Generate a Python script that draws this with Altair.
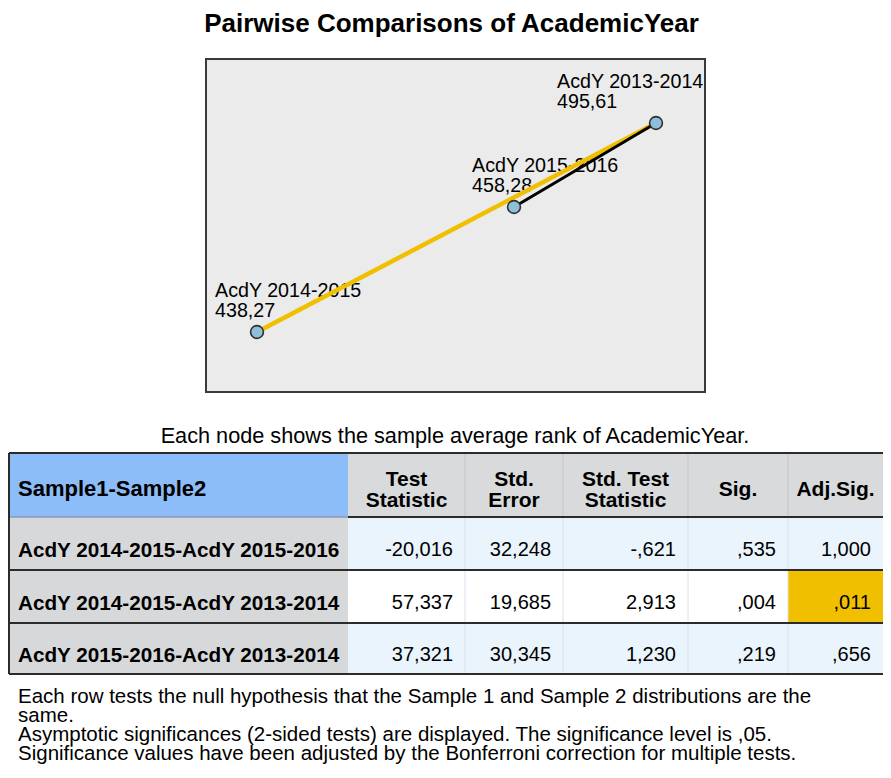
import altair as alt
import pandas as pd

# ---------------- data ----------------
title_text = "Pairwise Comparisons of AcademicYear"
caption_text = "Each node shows the sample average rank of AcademicYear."

node_names = ["AcdY 2014-2015", "AcdY 2015-2016", "AcdY 2013-2014"]
avg_ranks = [438.27, 458.28, 495.61]

edge_from = ["AcdY 2014-2015", "AcdY 2015-2016"]
edge_to = ["AcdY 2013-2014", "AcdY 2013-2014"]
edge_significant = [True, False]

header_labels = ["Sample1-Sample2", "Test\nStatistic", "Std.\nError",
                 "Std. Test\nStatistic", "Sig.", "Adj.Sig."]
pair_labels = ["AcdY 2014-2015-AcdY 2015-2016",
               "AcdY 2014-2015-AcdY 2013-2014",
               "AcdY 2015-2016-AcdY 2013-2014"]
test_statistic = [-20.016, 57.337, 37.321]
std_error = [32.248, 19.685, 30.345]
std_test_statistic = [-0.621, 2.913, 1.230]
sig = [0.535, 0.004, 0.219]
adj_sig = [1.000, 0.011, 0.656]

footnote_lines = [
    "Each row tests the null hypothesis that the Sample 1 and Sample 2 distributions are the",
    "same.",
    "Asymptotic significances (2-sided tests) are displayed. The significance level is ,05.",
    "Significance values have been adjusted by the Bonferroni correction for multiple tests.",
]

# ---------------- layout (page pixel frame) ----------------
W, H = 875, 757
node_x = [257, 514, 656]
node_y = [332, 207, 123]
label_x = [215, 472, 557]
box = dict(x=206, x2=705, y=59, y2=392)
col_edges = [9, 348, 465, 563, 688, 788, 883]
row_edges = [453, 517, 570, 623, 674]
foot_y = [703, 722, 741, 760]

FONT = "Liberation Sans"


def spss(v, d):
    s = f"{abs(v):.{d}f}".replace(".", ",")
    if s.startswith("0,"):
        s = s[1:]
    return ("-" if v < 0 else "") + s


XS = alt.Scale(domain=[8, 8 + W], range=[0, W], nice=False, zero=False)
YS = alt.Scale(domain=[8, 8 + H], range=[0, H], nice=False, zero=False)


def X(f):
    return alt.X(f"{f}:Q", scale=XS, axis=None)


def Y(f):
    return alt.Y(f"{f}:Q", scale=YS, axis=None)


def text_layer(df, size, weight="normal", align="left", font=FONT, color="#000000"):
    return alt.Chart(df).mark_text(
        font=font, fontSize=size, fontWeight=weight, align=align,
        baseline="alphabetic", color=color
    ).encode(x=X("x"), y=Y("y"), text="t:N")


layers = []

# title
layers.append(text_layer(pd.DataFrame({"x": [451.5], "y": [32], "t": [title_text]}),
                         26, "bold", "center"))

# plot box
layers.append(alt.Chart(pd.DataFrame([box])).mark_rect(
    fill="#ebebeb", stroke="#3a3a3a", strokeWidth=2
).encode(x=X("x"), x2="x2", y=Y("y"), y2="y2"))

# node labels
nodes = pd.DataFrame({"name": node_names, "rank": avg_ranks,
                      "nx": node_x, "ny": node_y, "lx": label_x})
lab1 = pd.DataFrame({"x": nodes.lx, "y": nodes.ny - 35, "t": nodes.name})
lab2 = pd.DataFrame({"x": nodes.lx, "y": nodes.ny - 15,
                     "t": [spss(r, 2) for r in nodes["rank"]]})
layers.append(text_layer(lab1, 19.7))
layers.append(text_layer(lab2, 19.7))

# edges
pos = {n: (x, y) for n, x, y in zip(node_names, node_x, node_y)}
edges = pd.DataFrame({
    "x": [pos[a][0] for a in edge_from], "y": [pos[a][1] for a in edge_from],
    "x2": [pos[b][0] for b in edge_to], "y2": [pos[b][1] for b in edge_to],
    "c": ["#f0c000" if s else "#000000" for s in edge_significant],
    "w": [4.5 if s else 3 for s in edge_significant],
})
layers.append(alt.Chart(edges).mark_rule(strokeCap="round").encode(
    x=X("x"), y=Y("y"), x2="x2", y2="y2",
    color=alt.Color("c:N", scale=None),
    strokeWidth=alt.StrokeWidth("w:Q", scale=None)))

# nodes
layers.append(alt.Chart(nodes).mark_circle(
    fill="#8ebfda", stroke="#2f2f2f", strokeWidth=1.6, size=165, opacity=1
).encode(x=X("nx"), y=Y("ny")))

# caption
layers.append(text_layer(pd.DataFrame({"x": [455], "y": [443], "t": [caption_text]}),
                         21.7, align="center"))

# ---------------- table ----------------
cells = []
for j in range(6):
    cells.append(dict(x=col_edges[j], x2=col_edges[j + 1], y=row_edges[0], y2=row_edges[1],
                      f="#8cbdf8" if j == 0 else "#d9dadc"))
for i in range(3):
    for j in range(6):
        if j == 0:
            f = "#d7d8d9"
        elif j == 5 and adj_sig[i] < 0.05:
            f = "#f0c000"
        else:
            f = "#ffffff" if i == 1 else "#eaf4fc"
        cells.append(dict(x=col_edges[j], x2=col_edges[j + 1], y=row_edges[i + 1],
                          y2=row_edges[i + 2], f=f))
cells = pd.DataFrame(cells)
layers.append(alt.Chart(cells).mark_rect().encode(
    x=X("x"), x2="x2", y=Y("y"), y2="y2", fill=alt.Fill("f:N", scale=None)))

lines = []
for xe in col_edges[2:6]:
    lines.append(dict(x=xe, x2=xe, y=row_edges[0], y2=row_edges[1], c="#c4c5c7", w=1))
    lines.append(dict(x=xe, x2=xe, y=row_edges[1], y2=row_edges[4], c="#d6e2ec", w=1))
lines.append(dict(x=col_edges[0], x2=col_edges[1], y=row_edges[1], y2=row_edges[1], c="#8a9bb0", w=1.5))
lines.append(dict(x=col_edges[1], x2=col_edges[6], y=row_edges[1], y2=row_edges[1], c="#2b2b2b", w=2))
for ye in [row_edges[0], row_edges[2], row_edges[3], row_edges[4]]:
    lines.append(dict(x=col_edges[0], x2=col_edges[6], y=ye, y2=ye, c="#2b2b2b", w=2))
lines.append(dict(x=col_edges[0], x2=col_edges[0], y=row_edges[0], y2=row_edges[4], c="#2b2b2b", w=2))
lines = pd.DataFrame(lines)
layers.append(alt.Chart(lines).mark_rule().encode(
    x=X("x"), y=Y("y"), x2="x2", y2="y2",
    color=alt.Color("c:N", scale=None),
    strokeWidth=alt.StrokeWidth("w:Q", scale=None)))

# header text
hdr = []
hdr_left = None
for j, lab in enumerate(header_labels):
    parts = lab.split("\n")
    if j == 0:
        hdr_left = dict(x=col_edges[0] + 9, y=496, t=lab)
        continue
    cx = (col_edges[j] + col_edges[j + 1]) / 2
    if len(parts) == 1:
        hdr.append(dict(x=cx, y=496, t=parts[0]))
    else:
        hdr.append(dict(x=cx, y=486, t=parts[0]))
        hdr.append(dict(x=cx, y=507, t=parts[1]))
layers.append(text_layer(pd.DataFrame([hdr_left]), 22, "bold", "left"))
layers.append(text_layer(pd.DataFrame(hdr), 21, "bold", "center"))

# row labels
rl = pd.DataFrame({"x": [col_edges[0] + 9] * 3,
                   "y": [(row_edges[i + 1] + row_edges[i + 2]) / 2 + 13 for i in range(3)],
                   "t": pair_labels})
layers.append(text_layer(rl, 20.7, "bold", "left"))

# numbers
nums = []
cols = [test_statistic, std_error, std_test_statistic, sig, adj_sig]
for i in range(3):
    for j, col in enumerate(cols):
        nums.append(dict(x=col_edges[j + 2] - 12,
                         y=(row_edges[i + 1] + row_edges[i + 2]) / 2 + 12,
                         t=spss(col[i], 3)))
layers.append(text_layer(pd.DataFrame(nums), 20, align="right"))

# footnotes
layers.append(text_layer(pd.DataFrame({"x": [18] * 4, "y": foot_y, "t": footnote_lines}), 20.5))

chart = alt.layer(*layers).properties(
    width=W, height=H, autosize=alt.AutoSizeParams(type="none"), padding=0,
    background="#ffffff"
).configure_view(strokeWidth=0)

chart.save("out.html", embed_options={"renderer": "svg", "actions": False})
